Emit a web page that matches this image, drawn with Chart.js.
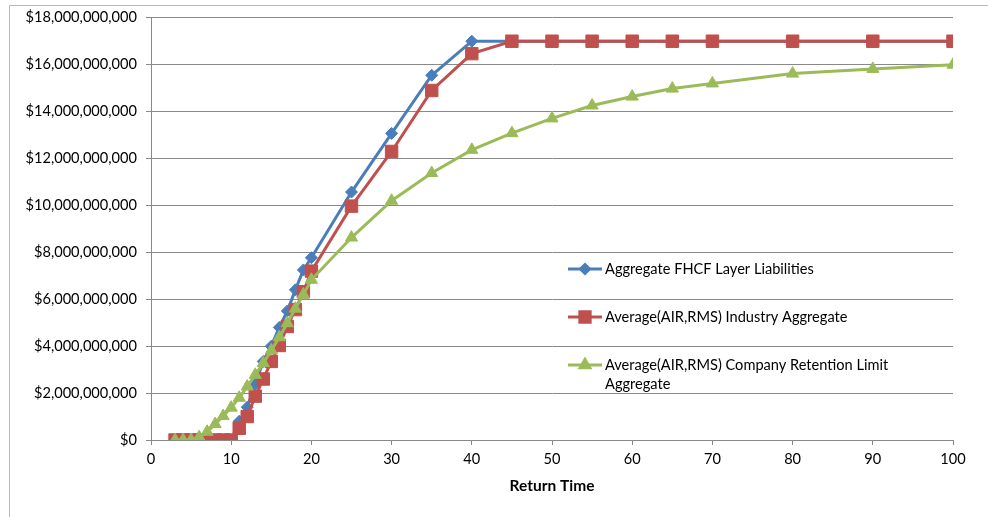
<!DOCTYPE html>
<html>
<head>
<meta charset="utf-8">
<script src="https://cdn.jsdelivr.net/npm/chart.js@4/dist/chart.umd.min.js"></script>
<style>
  html, body { margin: 0; padding: 0; background: #fff; }
  #wrap { position: relative; width: 988px; height: 517px; overflow: hidden; }
  #frame { position: absolute; left: 9px; top: 5px; width: 1200px; height: 800px;
           border-left: 1px solid #b9b9b9; border-top: 1px solid #b9b9b9; }
  canvas { position: absolute; left: 0; top: 0; }
</style>
</head>
<body>
<div id="wrap">
  <div id="frame"></div>
  <canvas id="chart" width="988" height="517"></canvas>
</div>
<script>
// return times (years)
const returnTimes = [3, 4, 5, 6, 7, 8, 9, 10, 11, 12, 13, 14, 15, 16, 17, 18, 19, 20,
  25, 30, 35, 40, 45, 50, 55, 60, 65, 70, 80, 90, 100];

// values in billions of dollars
const fhcfLayer = [0, 0, 0, 0, 0, 0, 0, 0, 0.8, 1.4, 2.4, 3.35, 4.0, 4.8, 5.5, 6.4, 7.25, 7.77,
  10.57, 13.07, 15.55, 17.0, 17.0, 17.0, 17.0, 17.0, 17.0, 17.0, 17.0, 17.0, 17.0];
const industryAgg = [0, 0, 0, 0, 0, 0, 0, 0, 0.5, 1.0, 1.87, 2.6, 3.35, 4.03, 4.84, 5.56, 6.32, 7.2,
  9.97, 12.3, 14.9, 16.47, 17.0, 17.0, 17.0, 17.0, 17.0, 17.0, 17.0, 17.0, 17.0];
const retentionAgg = [0, 0, 0, 0.12, 0.35, 0.68, 1.02, 1.38, 1.8, 2.28, 2.78, 3.28, 3.82, 4.38, 4.98, 5.6, 6.2, 6.83,
  8.63, 10.2, 11.38, 12.37, 13.08, 13.71, 14.26, 14.64, 14.98, 15.2, 15.62, 15.82, 16.0];

const seriesLabels = [
  'Aggregate FHCF Layer Liabilities',
  'Average(AIR,RMS) Industry Aggregate',
  'Average(AIR,RMS) Company Retention Limit Aggregate'
];

const BLUE = '#4a7ebb', RED = '#c0504d', GREEN = '#9bbb59';
const FONT = 'Lato, Carlito, Calibri, sans-serif';

function toPoints(vals) {
  return returnTimes.map((x, i) => ({ x: x, y: vals[i] * 1e9 }));
}

// legend drawn inside the plot, Excel style
const insideLegend = {
  id: 'insideLegend',
  afterDraw(chart) {
    const ctx = chart.ctx;
    const rows = [
      { y: 269, lines: [seriesLabels[0]] },
      { y: 317, lines: [seriesLabels[1]] },
      { y: 365, lines: ['Average(AIR,RMS) Company Retention Limit', 'Aggregate'] }
    ];
    ctx.save();
    ctx.font = '14.6px ' + FONT;
    ctx.fillStyle = '#000';
    ctx.textBaseline = 'middle';
    rows.forEach((r, i) => {
      const ds = chart.data.datasets[i];
      ctx.strokeStyle = ds.borderColor;
      ctx.lineWidth = 3;
      ctx.beginPath();
      ctx.moveTo(568, r.y);
      ctx.lineTo(602, r.y);
      ctx.stroke();
      ctx.fillStyle = ds.backgroundColor;
      ctx.strokeStyle = ds.borderColor;
      Chart.helpers.drawPoint(ctx, {
        pointStyle: ds.pointStyle, radius: ds.pointRadius - 1.5, rotation: 0, borderWidth: 1
      }, 585, r.y);
      ctx.fillStyle = '#000';
      r.lines.forEach((t, k) => ctx.fillText(t, 605, r.y + k * 19));
    });
    ctx.restore();
  }
};

new Chart(document.getElementById('chart'), {
  type: 'line',
  data: {
    datasets: [
      {
        label: seriesLabels[0],
        data: toPoints(fhcfLayer),
        borderColor: BLUE, backgroundColor: BLUE,
        borderWidth: 3, pointStyle: 'rectRot', pointRadius: 6, pointBorderWidth: 1,
        order: 3
      },
      {
        label: seriesLabels[1],
        data: toPoints(industryAgg),
        borderColor: RED, backgroundColor: RED,
        borderWidth: 3, pointStyle: 'rect', pointRadius: 8.8, pointBorderWidth: 1,
        order: 2
      },
      {
        label: seriesLabels[2],
        data: toPoints(retentionAgg),
        borderColor: GREEN, backgroundColor: GREEN,
        borderWidth: 3, pointStyle: 'triangle', pointRadius: 7, pointBorderWidth: 1,
        order: 1
      }
    ]
  },
  options: {
    responsive: false,
    animation: false,
    layout: { padding: { top: 16, right: 35, left: 0, bottom: 0 } },
    plugins: { legend: { display: false }, tooltip: { enabled: false } },
    elements: { line: { tension: 0 } },
    scales: {
      x: {
        type: 'linear',
        min: 0, max: 100,
        afterFit: (s) => { s.height = 77; },
        grid: { drawOnChartArea: false, color: '#898989', tickLength: 5 },
        border: { color: '#898989' },
        ticks: { stepSize: 10, color: '#000', padding: 6, font: { family: FONT, size: 14.6 } },
        title: {
          display: true, text: 'Return Time', color: '#000',
          font: { family: FONT, size: 15.5, weight: 'bold' },
          padding: { top: 4, bottom: 22 }
        }
      },
      y: {
        min: 0, max: 18e9,
        afterFit: (s) => { s.width = 151; },
        grid: { color: '#898989', tickLength: 5 },
        border: { color: '#898989' },
        ticks: {
          stepSize: 2e9, color: '#000', padding: 9,
          font: { family: FONT, size: 14.6 },
          callback: (v) => '$' + Number(v).toLocaleString('en-US')
        }
      }
    }
  },
  plugins: [insideLegend]
});
</script>
</body>
</html>
